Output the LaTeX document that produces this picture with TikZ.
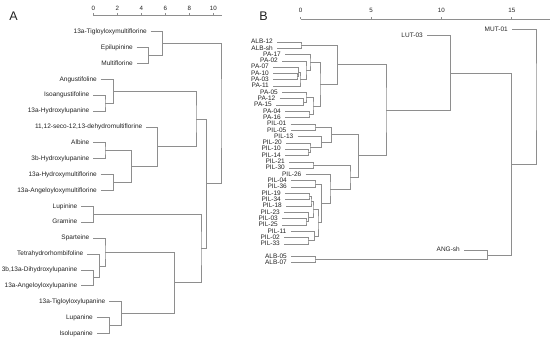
\documentclass[tikz,border=0pt]{standalone}
\usepackage{fontspec}
\setmainfont{Liberation Sans}
\usetikzlibrary{calc}
\definecolor{lnc}{HTML}{8E8E8E}
\definecolor{txc}{HTML}{222222}
\tikzset{
  lfA/.style={anchor=east, inner xsep=3.5pt, inner ysep=0pt, text height=4.7pt, text depth=1.3pt,
    font=\fontsize{6.5}{7}\selectfont, text=txc},
  lfB/.style={lfA, inner xsep=4pt},
  br/.style={draw=lnc, line width=0.8pt},
  ax/.style={draw=lnc, line width=0.8pt},
  tick/.style={font=\fontsize{6.2}{7}\selectfont, text=txc, inner sep=0pt},
  panel/.style={font=\fontsize{12.5}{13}\selectfont, text=txc, inner sep=0pt},
}
\newcommand{\lfa}[4]{\node[lfA] (#1) at (#3,{31.7+15.88*#2}) {#4};}
\newcommand{\lfb}[4]{\node[lfB] (#1) at (#3,{29.4+6.31*#2}) {#4};}
\newcommand{\jn}[4]{\path let \p1=($(#2)!.5!(#3)$) in coordinate (#1) at (#4pt,\y1);
  \draw[br] (#2) -| (#1) |- (#3);}
\begin{document}
\begin{tikzpicture}[x=1pt,y=-1pt]
\useasboundingbox (0,0) rectangle (550,340);
% panel letters
\node[panel] (pA) at (13.5,16) {A};
\node[panel] (pB) at (263.5,16) {B};
% axis A
\coordinate (axA0) at (93.3,15.7);
\coordinate (axA1) at (222,15.7);
\draw[ax] (axA0) -- (axA1);
\foreach \v in {0,2,4,6,8,10}{
  \coordinate (tA\v) at ({93.3+12*\v},15.7);
  \draw[ax] (tA\v) -- ++(0,-2.5);
  \node[tick] (nA\v) at ({93.3+12*\v},8.3) {\v};
}
% axis B
\coordinate (axB0) at (300.7,19.3);
\coordinate (axB1) at (549.5,19.3);
\draw[ax] (axB0) -- (axB1);
\foreach \v in {0,5,10,15}{
  \coordinate (tB\v) at ({300.7+14.07*\v},19.3);
  \draw[ax] (tB\v) -- ++(0,-2.5);
  \node[tick] (nB\v) at ({300.7+14.07*\v},10) {\v};
}
% ---------- panel A leaves ----------
\lfa{TigMF}{0}{150.5}{13a-Tigloyloxymultiflorine}
\lfa{Epi}{1}{136.5}{Epilupinine}
\lfa{Multi}{2}{136.5}{Multiflorine}
\lfa{Angus}{3}{100.5}{Angustifoline}
\lfa{Iso}{4}{93}{Isoangustifoline}
\lfa{HL}{5}{93}{13a-Hydroxylupanine}
\lfa{Seco}{6}{146}{11,12-seco-12,13-dehydromultiflorine}
\lfa{Albine}{7}{93}{Albine}
\lfa{HLb}{8}{93}{3b-Hydroxylupanine}
\lfa{HMF}{9}{100.5}{13a-Hydroxymultiflorine}
\lfa{AMF}{10}{100.5}{13a-Angeloyloxymultiflorine}
\lfa{Lupinine}{11}{81}{Lupinine}
\lfa{Gramine}{12}{81}{Gramine}
\lfa{Sparteine}{13}{93}{Sparteine}
\lfa{Tetra}{14}{87}{Tetrahydrorhombifoline}
\lfa{DHL}{15}{81}{3b,13a-Dihydroxylupanine}
\lfa{AL}{16}{81}{13a-Angeloyloxylupanine}
\lfa{TL}{17}{109}{13a-Tigloyloxylupanine}
\lfa{Lupanine}{18}{96.5}{Lupanine}
\lfa{Isolupanine}{19}{96.5}{Isolupanine}
% ---------- panel A joins ----------
\jn{J1}{Epi.east}{Multi.east}{148.3}
\jn{J2}{TigMF.east}{J1}{162.7}
\jn{J3}{Iso.east}{HL.east}{105}
\jn{J4}{Angus.east}{J3}{113.3}
\jn{J5}{Albine.east}{HLb.east}{105}
\jn{J6}{HMF.east}{AMF.east}{113.3}
\jn{J7}{J5}{J6}{131.7}
\jn{J8}{Seco.east}{J7}{157.5}
\jn{J9}{J4}{J8}{196}
\jn{J10}{Lupinine.east}{Gramine.east}{93.3}
\jn{J11}{DHL.east}{AL.east}{93.3}
\jn{J12}{Tetra.east}{J11}{99.3}
\jn{J13}{Sparteine.east}{J12}{105}
\jn{J14}{Lupanine.east}{Isolupanine.east}{109.3}
\jn{J15}{TL.east}{J14}{121.7}
\jn{J16}{J13}{J15}{174.3}
\jn{J17}{J10}{J16}{201}
\jn{J18}{J9}{J17}{206.7}
\jn{J19}{J2}{J18}{221}
% ---------- panel B leaves ----------
\lfb{MUT}{0}{512}{MUT-01}
\lfb{LUT}{1}{427}{LUT-03}
\lfb{ALB12}{2}{277}{ALB-12}
\lfb{ALBsh}{3}{277}{ALB-sh}
\lfb{PA17}{4}{285}{PA-17}
\lfb{PA02}{5}{282}{PA-02}
\lfb{PA07}{6}{273}{PA-07}
\lfb{PA10}{7}{273}{PA-10}
\lfb{PA03}{8}{273}{PA-03}
\lfb{PA11}{9}{273}{PA-11}
\lfb{PA05}{10}{282}{PA-05}
\lfb{PA12}{11}{279.5}{PA-12}
\lfb{PA15}{12}{276}{PA-15}
\lfb{PA04}{13}{285}{PA-04}
\lfb{PA16}{14}{285}{PA-16}
\lfb{PIL01}{15}{290.5}{PIL-01}
\lfb{PIL05}{16}{290.5}{PIL-05}
\lfb{PIL13}{17}{297.5}{PIL-13}
\lfb{PIL20}{18}{286}{PIL-20}
\lfb{PIL10}{19}{285}{PIL-10}
\lfb{PIL14}{20}{285}{PIL-14}
\lfb{PIL21}{21}{289}{PIL-21}
\lfb{PIL30}{22}{289}{PIL-30}
\lfb{PIL26}{23}{305.5}{PIL-26}
\lfb{PIL04}{24}{291}{PIL-04}
\lfb{PIL36}{25}{291}{PIL-36}
\lfb{PIL19}{26}{285}{PIL-19}
\lfb{PIL34}{27}{285}{PIL-34}
\lfb{PIL18}{28}{286}{PIL-18}
\lfb{PIL23}{29}{284}{PIL-23}
\lfb{PIL03}{30}{282}{PIL-03}
\lfb{PIL25}{31}{282}{PIL-25}
\lfb{PIL11}{32}{290.5}{PIL-11}
\lfb{PIL02}{33}{284}{PIL-02}
\lfb{PIL33}{34}{284}{PIL-33}
\lfb{ANG}{35}{464}{ANG-sh}
\lfb{ALB05}{36}{291}{ALB-05}
\lfb{ALB07}{37}{291}{ALB-07}
% ---------- panel B joins ----------
\jn{B1}{ALB12.east}{ALBsh.east}{301}
\jn{B2}{PA10.east}{PA03.east}{297}
\jn{B3}{PA07.east}{B2}{298.5}
\jn{B4}{B3}{PA11.east}{300}
\jn{B5}{PA02.east}{B4}{306}
\jn{B6}{PA17.east}{B5}{310}
\jn{B7}{PA12.east}{PA15.east}{303.5}
\jn{B8}{PA05.east}{B7}{306}
\jn{B9}{PA04.east}{PA16.east}{309}
\jn{B10}{B8}{B9}{313}
\jn{B11}{B6}{B10}{320}
\jn{B12}{B1}{B11}{337.3}
\jn{B13}{PIL01.east}{PIL05.east}{315}
\jn{B14}{PIL10.east}{PIL14.east}{308}
\jn{B15}{PIL20.east}{B14}{310}
\jn{B16}{PIL13.east}{B15}{321.7}
\jn{B17}{B13}{B16}{331.7}
\jn{B18}{PIL21.east}{PIL30.east}{313}
\jn{M1}{PIL19.east}{PIL34.east}{309}
\jn{M2}{M1}{PIL18.east}{311}
\jn{M3}{PIL03.east}{PIL25.east}{306}
\jn{M4}{PIL23.east}{M3}{308.5}
\jn{M5}{M2}{M4}{313}
\jn{M6}{PIL02.east}{PIL33.east}{308}
\jn{M7}{PIL11.east}{M6}{314.5}
\jn{M8}{M5}{M7}{318}
\jn{P4}{PIL04.east}{PIL36.east}{315}
\jn{LL}{P4}{M8}{321.7}
\jn{B26}{PIL26.east}{LL}{330}
\jn{B19}{B18}{B26}{350}
\jn{B20}{B17}{B19}{358.3}
\jn{B21}{B12}{B20}{386}
\jn{B22}{LUT.east}{B21}{450.7}
\jn{A5}{ALB05.east}{ALB07.east}{315}
\jn{B23}{ANG.east}{A5}{487.3}
\jn{B24}{B22}{B23}{511.7}
\jn{B25}{MUT.east}{B24}{536}
\end{tikzpicture}
\end{document}
